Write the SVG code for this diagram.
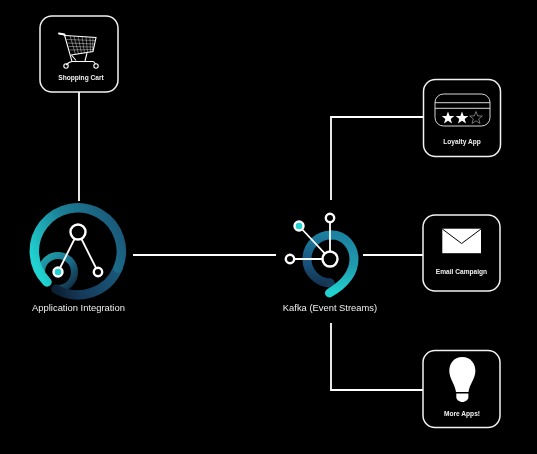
<svg xmlns="http://www.w3.org/2000/svg" width="537" height="454" viewBox="0 0 537 454">
<style>
.conn{fill:none;stroke:#fff;stroke-width:1.8}
.box{fill:#000;stroke:#f2f2f2;stroke-width:1.5}
.lbl{font-family:"Liberation Sans",Arial,sans-serif;font-size:6.6px;font-weight:700;fill:#f0f0f0;text-anchor:middle;filter:url(#soft)}
.cap{font-family:"Liberation Sans",Arial,sans-serif;font-size:9.4px;fill:#eee;text-anchor:middle;filter:url(#soft)}
.ln{fill:none;stroke:#fff;stroke-width:1.8}
.hub{fill:#000;stroke:#fff;stroke-width:2.4}
.arc{fill:none;stroke-linecap:round}
.cw{fill:none;stroke:#e8e8e8;stroke-width:.45}
.cf{fill:none;stroke:#fff;stroke-width:1.1}
</style>
<defs>
<filter id="soft" x="-5%" y="-20%" width="110%" height="140%"><feGaussianBlur stdDeviation=".22"/></filter>
<linearGradient id="a1" gradientUnits="userSpaceOnUse" x1="38" y1="270" x2="118" y2="230"><stop offset="0" stop-color="#20d2d0"/><stop offset=".5" stop-color="#1c8197"/><stop offset="1" stop-color="#1a5b7c"/></linearGradient>
<linearGradient id="a2" gradientUnits="userSpaceOnUse" x1="118" y1="262" x2="56" y2="290"><stop offset="0" stop-color="#1a5b7c"/><stop offset=".7" stop-color="#15395a"/><stop offset="1" stop-color="#0c2033"/></linearGradient>
<linearGradient id="a3" gradientUnits="userSpaceOnUse" x1="44" y1="258" x2="74" y2="288"><stop offset="0" stop-color="#1f9fa9"/><stop offset=".5" stop-color="#1b6a88"/><stop offset="1" stop-color="#10293f"/></linearGradient>
<linearGradient id="k1" gradientUnits="userSpaceOnUse" x1="330" y1="284" x2="330" y2="232"><stop offset="0" stop-color="#143452"/><stop offset=".5" stop-color="#1a5a84"/><stop offset="1" stop-color="#1c82a2"/></linearGradient>
<linearGradient id="k2" gradientUnits="userSpaceOnUse" x1="340" y1="235" x2="338" y2="292"><stop offset="0" stop-color="#1c82a2"/><stop offset=".55" stop-color="#209cae"/><stop offset="1" stop-color="#20d2d0"/></linearGradient>
<polygon id="star" points="0,-6.5 1.7,-2.1 6.3,-2 2.7,.9 4,5.4 0,2.8 -4,5.4 -2.7,.9 -6.3,-2 -1.7,-2.1"/>
</defs>
<rect width="537" height="454" fill="#000"/>
<g id="connectors">
<path class="conn" d="M79 92V201"/>
<path class="conn" d="M133 255H276"/>
<path class="conn" d="M363 255H423"/>
<path class="conn" d="M331 200V117H424"/>
<path class="conn" d="M331 323V390H423"/>
</g>
<g id="shopping-cart">
<rect class="box" x="40" y="16" width="78" height="76" rx="12"/>
<path class="cf" d="M59 33.5L64.500 35L72 61.500H93.500M72 61.500L69 62.500L66 65"/>
<path d="M59 33.500L64.500 34.600" fill="none" stroke="#fff" stroke-width="2" stroke-linecap="round"/>
<path class="cf" d="M65 35.500L96 37.500L93 51.500L71 55M71.500 55L76 60.500M87 53L85 61"/>
<path class="cw" d="M66.500 39.500L95.500 40.500M67.500 43L95 44M68.500 46.500L94 47M69.500 50L93.500 49.500M70 35.600L75.500 54.500M74 36L78.500 54M78 36L81.500 53.500M82 36.500L84.500 53M86 36.700L87.500 52.700M90 37L90.500 52.300M93 37.200L92.500 51.800"/>
<circle class="cf" cx="66" cy="66" r="2.200"/>
<circle class="cf" cx="96" cy="66" r="2.200"/>
<path class="cf" d="M93.500 61.500L95.500 64"/>
<text class="lbl" x="81" y="79.500">Shopping Cart</text>
</g>
<g id="loyalty-app">
<rect class="box" x="423.500" y="79.500" width="77" height="77" rx="12"/>
<rect x="435" y="94" width="55" height="32" rx="8.500" fill="none" stroke="#eee" stroke-width=".9"/>
<path d="M435 102.700H490M435 108.300H490" fill="none" stroke="#eee" stroke-width=".9"/>
<use href="#star" x="448" y="118" fill="#fff"/>
<use href="#star" x="462" y="118" fill="#fff"/>
<use href="#star" x="476" y="118" fill="none" stroke="#bbb" stroke-width=".6"/>
<text class="lbl" x="462" y="143.500">Loyalty App</text>
</g>
<g id="email-campaign">
<rect class="box" x="423" y="215" width="77" height="76" rx="12"/>
<rect x="442.300" y="228.700" width="38.700" height="24.500" fill="#fff"/>
<path d="M442.300 229L461.600 243.500L481 229" fill="none" stroke="#000" stroke-width="1"/>
<text class="lbl" x="461.500" y="273.500">Email Campaign</text>
</g>
<g id="more-apps">
<rect class="box" x="423" y="350.500" width="77" height="77" rx="12"/>
<path d="M462.300 357C453.500 357 449.200 364 449.300 371C449.400 379 455 384 456 392H468.500C469.500 384 475.300 379 475.400 371C475.500 364 471 357 462.300 357Z" fill="#fff"/>
<path d="M456.300 393.600H468.400V397.500C468.400 399.500 465.500 402 462.300 402C459.200 402 456.300 399.500 456.300 397.500Z" fill="#fff"/>
<text class="lbl" x="462" y="416">More Apps!</text>
</g>
<g id="application-integration">
<path class="arc" stroke="url(#a3)" stroke-width="7" stroke-linecap="butt" d="M41.500 272A16.500 16.500 0 1 1 58 288.500"/>
<path class="arc" stroke="url(#a2)" stroke-width="9.500" stroke-linecap="butt" d="M118 268A43.500 43.500 0 0 1 56 289"/>
<path class="arc" stroke="url(#a1)" stroke-width="9.500" d="M47 282A43.500 43.500 0 1 1 118 268"/>
<path class="ln" d="M78 232L58 272M78 232L98 272"/>
<circle class="hub" cx="78" cy="232" r="7.500"/>
<circle cx="58" cy="272" r="4.500" fill="#20d2d0" stroke="#fff" stroke-width="2.400"/>
<circle class="hub" cx="98" cy="272" r="4.200"/>
<text class="cap" x="78.500" y="311">Application Integration</text>
</g>
<g id="kafka">
<path class="arc" stroke="url(#k1)" stroke-width="9" stroke-linecap="butt" d="M330 283A24 24 0 0 1 332 235"/>
<circle cx="330" cy="283" r="4.500" fill="#17395a"/>
<path class="arc" stroke="url(#k2)" stroke-width="9" d="M332 235C345 235 354 247 354 259C354 274 343 285 329.500 293"/>
<path class="ln" d="M330 259V218M330 259H290M330 259L299 226"/>
<circle class="hub" cx="330" cy="259" r="7.500"/>
<circle class="hub" cx="330" cy="218" r="4.200"/>
<circle class="hub" cx="290" cy="259" r="4.200"/>
<circle cx="299" cy="226" r="4.500" fill="#20d2d0" stroke="#fff" stroke-width="2.400"/>
<text class="cap" x="330" y="311">Kafka (Event Streams)</text>
</g>
</svg>
